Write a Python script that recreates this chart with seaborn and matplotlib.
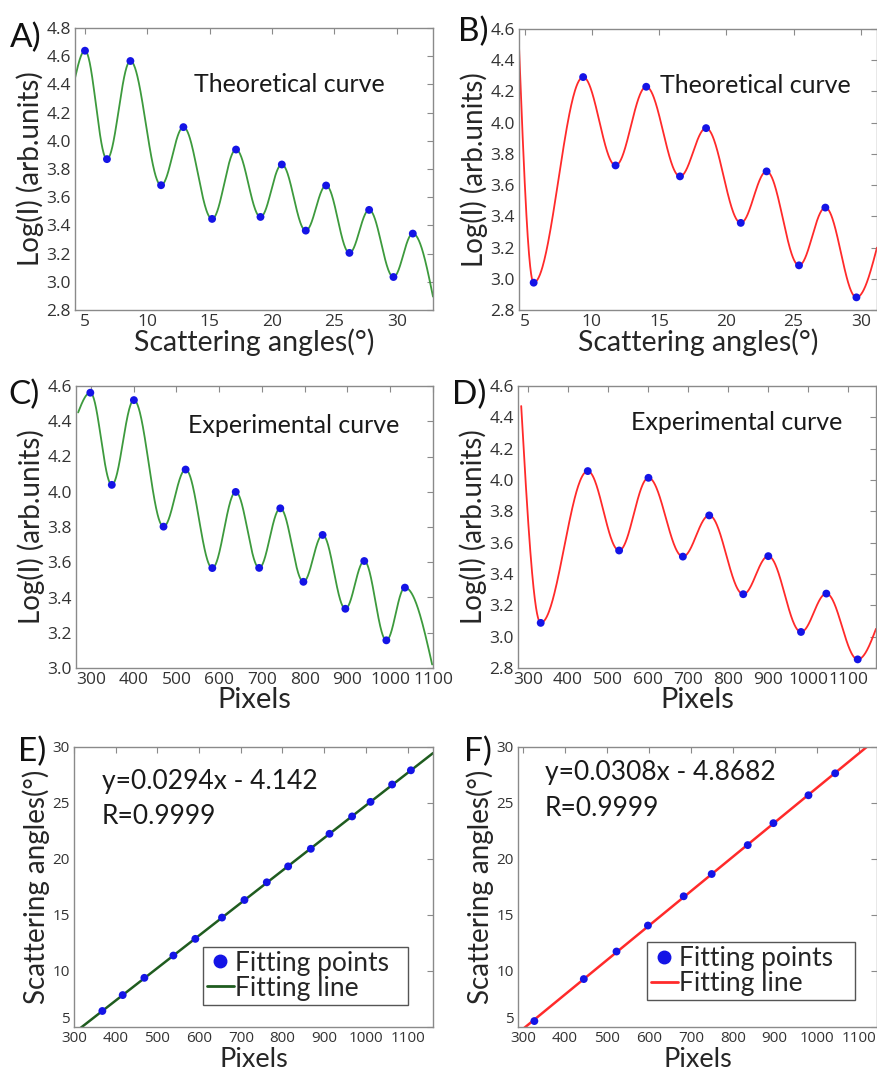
import numpy as np
import matplotlib
matplotlib.use("Agg")
import matplotlib.pyplot as plt
import seaborn as sns
from matplotlib.lines import Line2D

sns.set_style("white")
plt.rcParams['font.family'] = ['Lato', 'DejaVu Sans']

# ---- data ----
# A) theoretical curve, green (angle, log I) : start, extrema, end
a_ang = [4.2, 5.0, 6.76, 8.64, 11.10, 12.89, 15.19, 17.11, 19.07, 20.78, 22.70, 24.33, 26.20, 27.78, 29.73, 31.28, 32.9]
a_log = [4.445, 4.639, 3.870, 4.566, 3.685, 4.097, 3.446, 3.938, 3.460, 3.832, 3.363, 3.683, 3.205, 3.510, 3.034, 3.342, 2.895]
# B) theoretical curve, red
b_ang = [4.58, 5.67, 9.35, 11.76, 14.04, 16.55, 18.49, 21.07, 22.99, 25.40, 27.36, 29.67, 31.2]
b_log = [4.489, 2.975, 4.292, 3.726, 4.230, 3.656, 3.965, 3.358, 3.688, 3.086, 3.456, 2.881, 3.20]
# C) experimental curve, green (pixel, log I)
c_pix = [270, 298.5, 348.7, 400.4, 469.7, 521.4, 583.8, 638.6, 693.4, 742.8, 796.9, 841.8, 895.0, 939.2, 990.9, 1034.3, 1098]
c_log = [4.45, 4.562, 4.039, 4.520, 3.802, 4.126, 3.567, 3.999, 3.568, 3.906, 3.489, 3.755, 3.336, 3.607, 3.157, 3.456, 3.02]
# D) experimental curve, red
d_pix = [283, 331.7, 449.2, 527.5, 600.8, 686.7, 752.5, 837.5, 900.0, 981.7, 1045.0, 1123.3, 1169]
d_log = [4.472, 3.088, 4.057, 3.550, 4.014, 3.511, 3.774, 3.271, 3.514, 3.030, 3.275, 2.855, 3.05]
# E) fitting points, green line
e_pix = [368, 416.8, 468.8, 538.4, 591, 655, 708.8, 762.4, 813.6, 868, 912.8, 967, 1011.2, 1063, 1108]
e_ang = [6.43, 7.85, 9.39, 11.38, 12.87, 14.77, 16.34, 17.92, 19.34, 20.91, 22.25, 23.80, 25.10, 26.65, 27.92]
# F) fitting points, red line
f_pix = [327, 444.9, 522.9, 597.8, 683, 749.8, 835.8, 897, 980.6, 1044.3]
f_ang = [5.53, 9.28, 11.74, 14.06, 16.67, 18.66, 21.24, 23.20, 25.69, 27.65]

GREEN = "#3d9a3d"
DKGREEN = "#1f5c1f"
RED = "#ff2a2a"
BLUE = "#1414e6"
SPINE = "#8a8a8a"
TICKC = "#333333"


def smooth_curve(xs, ys, n=80):
    # draw an oscillating curve through the read extrema (cosine-shaped arcs)
    X, Y = [], []
    last = len(xs) - 2
    for i in range(len(xs) - 1):
        t = np.linspace(0, 1, n)
        if i == 0:
            f = np.sin(np.pi / 2 * t)
        elif i == last:
            f = 1 - np.cos(np.pi / 2 * t)
        else:
            f = (1 - np.cos(np.pi * t)) / 2
        X.append(xs[i] + (xs[i + 1] - xs[i]) * t)
        Y.append(ys[i] + (ys[i + 1] - ys[i]) * f)
    return np.concatenate(X), np.concatenate(Y)


def style(ax, size):
    for s in ax.spines.values():
        s.set_color(SPINE)
        s.set_linewidth(1.0)
    ax.tick_params(direction="in", top=True, right=True, length=4, width=0.8,
                   color=SPINE, labelcolor=TICKC, labelsize=size, pad=3)
    for lab in ax.get_xticklabels() + ax.get_yticklabels():
        lab.set_family(['Open Sans', 'DejaVu Sans'])


fig = plt.figure(figsize=(8.78, 10.72), dpi=100)
W, H = 878.0, 1072.0


def add_ax(l, t, r, b):
    return fig.add_axes([l / W, 1 - b / H, (r - l) / W, (b - t) / H])


axA = add_ax(75, 28, 433, 310)
axB = add_ax(519, 29, 877, 310)
axC = add_ax(76, 386, 433, 668)
axD = add_ax(518, 386, 876, 668)
axE = add_ax(74, 747, 433, 1027)
axF = add_ax(518, 747, 877, 1027)

curve_panels = [
    (axA, a_ang, a_log, GREEN, (4.2, 32.9), (2.8, 4.8), np.arange(5, 31, 5), np.arange(2.8, 4.81, 0.2),
     "Scattering angles(°)", "Theoretical curve", (0.60, 0.80)),
    (axB, b_ang, b_log, RED, (4.58, 31.2), (2.8, 4.6), np.arange(5, 31, 5), np.arange(2.8, 4.61, 0.2),
     "Scattering angles(°)", "Theoretical curve", (0.66, 0.80)),
    (axC, c_pix, c_log, GREEN, (265, 1100), (3.0, 4.6), np.arange(300, 1101, 100), np.arange(3.0, 4.61, 0.2),
     "Pixels", "Experimental curve", (0.61, 0.86)),
    (axD, d_pix, d_log, RED, (275, 1169), (2.8, 4.6), np.arange(300, 1101, 100), np.arange(2.8, 4.61, 0.2),
     "Pixels", "Experimental curve", (0.61, 0.87)),
]

for ax, xs, ys, col, xl, yl, xt, yt, xlab, title, tpos in curve_panels:
    cx, cy = smooth_curve(xs, ys)
    sns.lineplot(x=cx, y=cy, ax=ax, color=col, lw=1.3, sort=False, estimator=None)
    sns.scatterplot(x=xs[1:-1], y=ys[1:-1], ax=ax, color=BLUE, s=32, edgecolor="none", zorder=3)
    ax.set_xlim(*xl)
    ax.set_ylim(*yl)
    ax.set_xticks(xt)
    ax.set_yticks(yt)
    ax.set_yticklabels([f"{v:.1f}" for v in yt])
    ax.set_xlabel(xlab, fontsize=20.5, labelpad=-1)
    ax.set_ylabel("Log(I) (arb.units)", fontsize=20, labelpad=2)
    ax.text(tpos[0], tpos[1], title, transform=ax.transAxes, ha="center", va="center",
            fontsize=18, color="#1a1a1a")
    style(ax, 12.5)

fit_panels = [
    (axE, e_pix, e_ang, DKGREEN, (300, 1161), "y=0.0294x - 4.142", (0.078, 0.876), (0.078, 0.75), (0.36, 0.08, 0.57, 0.19)),
    (axF, f_pix, f_ang, RED, (288, 1144), "y=0.0308x - 4.8682", (0.075, 0.91), (0.075, 0.78), (0.36, 0.097, 0.58, 0.18)),
]

for ax, xs, ys, col, xl, eq, eqpos, rpos, lbox in fit_panels:
    ax.set_xlim(*xl)
    ax.set_ylim(5, 30)
    sns.regplot(x=np.array(xs), y=np.array(ys), ax=ax, ci=None, truncate=False, scatter=False,
                line_kws=dict(color=col, lw=1.8))
    sns.scatterplot(x=xs, y=ys, ax=ax, color=BLUE, s=32, edgecolor="none", zorder=3)
    ax.set_xlim(*xl)
    ax.set_ylim(5, 30)
    ax.set_xticks(np.arange(300, 1101, 100))
    ax.set_yticks(np.arange(5, 31, 5))
    ax.set_xlabel("Pixels", fontsize=19.5, labelpad=0.5)
    ax.set_ylabel("Scattering angles(°)", fontsize=20, labelpad=2)
    ax.text(eqpos[0], eqpos[1], eq, transform=ax.transAxes, ha="left", va="center", fontsize=19, color="#1a1a1a")
    ax.text(rpos[0], rpos[1], "R=0.9999", transform=ax.transAxes, ha="left", va="center", fontsize=19, color="#1a1a1a")
    handles = [Line2D([0], [0], marker="o", ls="none", color=BLUE, markersize=9),
               Line2D([0], [0], color=col, lw=2)]
    leg = ax.legend(handles, ["Fitting points", "Fitting line"], loc="lower left",
                    bbox_to_anchor=lbox, mode="expand", fontsize=19, handlelength=1.0,
                    handletextpad=0.05, borderpad=0.15, labelspacing=0.0, fancybox=False,
                    framealpha=1, borderaxespad=0)
    leg.get_frame().set_edgecolor("#555555")
    style(ax, 11)
    # keep the corner "5" clear of the "300" below it
    ax.get_yticklabels()[0].set_verticalalignment("bottom")

for ax in (axC, axD):
    ax.xaxis.label.set_size(21)

letters = [("A)", 10, 38), ("B)", 458, 32), ("C)", 8, 395), ("D)", 452, 395), ("E)", 18, 752), ("F)", 464, 752)]
for s, x, y in letters:
    fig.text(x / W, 1 - y / H, s, fontsize=24, ha="left", va="center", color="#111111")

fig.savefig("out.png", dpi=100)
